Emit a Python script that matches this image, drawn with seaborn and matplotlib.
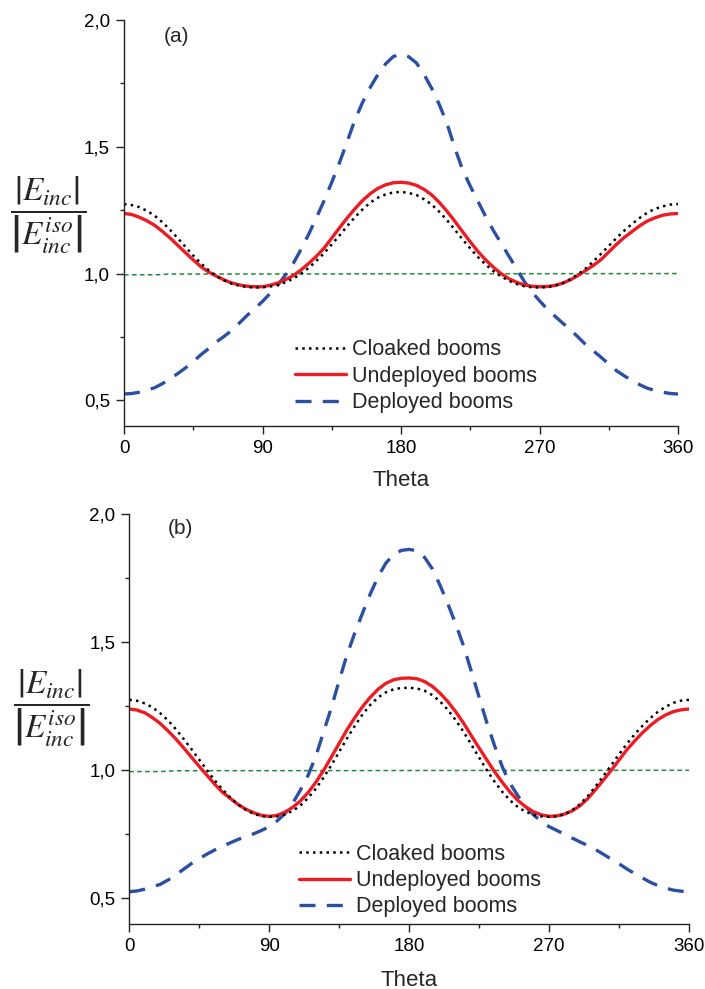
import matplotlib
matplotlib.use("Agg")
import numpy as np
import pandas as pd
import seaborn as sns
import matplotlib.pyplot as plt
from matplotlib.ticker import MultipleLocator, FuncFormatter

# ---------------- data ----------------
theta = list(range(0, 361, 5))

# panel (a)
a_cloaked = [1.274, 1.270, 1.262, 1.247, 1.228, 1.202, 1.172, 1.139, 1.105, 1.071,
             1.040, 1.013, 0.990, 0.973, 0.960, 0.952, 0.947, 0.945, 0.946, 0.949,
             0.955, 0.966, 0.980, 0.999, 1.022, 1.050, 1.080, 1.115, 1.150, 1.187,
             1.222, 1.253, 1.280, 1.299, 1.312, 1.320, 1.322, 1.318, 1.310, 1.293,
             1.272, 1.243, 1.210, 1.173, 1.135, 1.099, 1.065, 1.036, 1.010, 0.989,
             0.972, 0.959, 0.950, 0.946, 0.945, 0.947, 0.952, 0.962, 0.978, 0.997,
             1.020, 1.048, 1.078, 1.109, 1.140, 1.169, 1.195, 1.219, 1.240, 1.255,
             1.265, 1.272, 1.274]
a_undeployed = [1.237, 1.233, 1.222, 1.208, 1.190, 1.166, 1.140, 1.111, 1.082, 1.054,
                1.027, 1.006, 0.990, 0.975, 0.963, 0.955, 0.950, 0.948, 0.948, 0.954,
                0.963, 0.976, 0.992, 1.014, 1.040, 1.068, 1.100, 1.140, 1.180, 1.219,
                1.255, 1.288, 1.315, 1.336, 1.350, 1.358, 1.360, 1.357, 1.348, 1.332,
                1.310, 1.280, 1.245, 1.206, 1.165, 1.125, 1.087, 1.054, 1.025, 1.000,
                0.980, 0.966, 0.955, 0.950, 0.948, 0.949, 0.953, 0.962, 0.975, 0.992,
                1.012, 1.032, 1.055, 1.085, 1.115, 1.142, 1.165, 1.188, 1.207, 1.220,
                1.230, 1.235, 1.237]
a_deployed = [0.525, 0.527, 0.532, 0.540, 0.550, 0.566, 0.585, 0.606, 0.628, 0.653,
              0.680, 0.704, 0.730, 0.752, 0.776, 0.805, 0.835, 0.862, 0.890, 0.922,
              0.955, 0.995, 1.040, 1.095, 1.155, 1.220, 1.287, 1.360, 1.437, 1.520,
              1.605, 1.675, 1.734, 1.785, 1.827, 1.856, 1.865, 1.855, 1.831, 1.785,
              1.730, 1.665, 1.590, 1.495, 1.410, 1.345, 1.285, 1.225, 1.170, 1.120,
              1.070, 1.020, 0.970, 0.928, 0.893, 0.860, 0.832, 0.805, 0.779, 0.750,
              0.720, 0.695, 0.670, 0.643, 0.617, 0.597, 0.578, 0.562, 0.548, 0.539,
              0.532, 0.527, 0.525]

# panel (b)
b_cloaked = [1.275, 1.271, 1.261, 1.245, 1.222, 1.194, 1.160, 1.122, 1.082, 1.041,
             1.000, 0.960, 0.925, 0.893, 0.866, 0.845, 0.830, 0.821, 0.818, 0.820,
             0.827, 0.841, 0.862, 0.892, 0.928, 0.972, 1.020, 1.072, 1.124, 1.173,
             1.218, 1.255, 1.284, 1.304, 1.316, 1.321, 1.322, 1.319, 1.310, 1.293,
             1.268, 1.235, 1.195, 1.150, 1.100, 1.050, 1.000, 0.955, 0.915, 0.882,
             0.856, 0.838, 0.826, 0.820, 0.818, 0.820, 0.828, 0.845, 0.868, 0.900,
             0.938, 0.978, 1.020, 1.062, 1.103, 1.140, 1.173, 1.203, 1.228, 1.248,
             1.263, 1.272, 1.275]
b_undeployed = [1.239, 1.235, 1.224, 1.205, 1.182, 1.153, 1.122, 1.087, 1.051, 1.015,
                0.980, 0.945, 0.914, 0.890, 0.866, 0.848, 0.834, 0.824, 0.820, 0.824,
                0.836, 0.855, 0.880, 0.913, 0.953, 1.000, 1.052, 1.105, 1.158, 1.205,
                1.248, 1.285, 1.316, 1.339, 1.353, 1.359, 1.360, 1.357, 1.346, 1.327,
                1.300, 1.267, 1.228, 1.184, 1.135, 1.087, 1.040, 0.994, 0.952, 0.914,
                0.882, 0.857, 0.838, 0.826, 0.820, 0.822, 0.829, 0.842, 0.862, 0.890,
                0.925, 0.962, 1.000, 1.040, 1.080, 1.114, 1.146, 1.174, 1.198, 1.216,
                1.229, 1.236, 1.239]
b_deployed = [0.526, 0.529, 0.536, 0.545, 0.555, 0.572, 0.592, 0.614, 0.636, 0.655,
              0.673, 0.689, 0.703, 0.717, 0.730, 0.741, 0.752, 0.765, 0.780, 0.802,
              0.830, 0.870, 0.922, 0.980, 1.055, 1.150, 1.245, 1.350, 1.450, 1.535,
              1.613, 1.688, 1.755, 1.808, 1.842, 1.858, 1.862, 1.856, 1.830, 1.785,
              1.720, 1.648, 1.570, 1.485, 1.386, 1.285, 1.185, 1.095, 1.012, 0.947,
              0.900, 0.858, 0.826, 0.800, 0.780, 0.765, 0.750, 0.735, 0.720, 0.706,
              0.690, 0.672, 0.653, 0.635, 0.615, 0.597, 0.580, 0.563, 0.550, 0.540,
              0.532, 0.528, 0.526]

ref_theta = [0, 20, 30, 360]
ref_level = [0.995, 0.995, 0.998, 1.000]

labels = ["Cloaked booms", "Undeployed booms", "Deployed booms"]
xticks = [0, 90, 180, 270, 360]
yticks = [0.5, 1.0, 1.5, 2.0]
panel_tags = ["(a)", "(b)"]

# ---------------- style ----------------
sns.set_style("ticks")
plt.rcParams["font.family"] = ["Liberation Sans", "DejaVu Sans"]
plt.rcParams["mathtext.fontset"] = "stix"

tick_family = "Liberation Sans"
tick_size = 13.5

RED = "#ec1c24"
BLUE = "#2a4fa3"
GREEN = "#1f8a3c"

fig = plt.figure(figsize=(7.05, 9.89), dpi=100)

W, H = 705.0, 989.0
boxes = [(124, 678, 20, 425.7), (129.3, 689, 514, 924)]
ylab_pos = [(48, 215), (51, 708)]
tag_pos = [(177, 37), (180, 528)]
theta_pos = [(401, 480), (409, 980)]
leg_anchor = [(0.308, 0.122), (0.3025, 0.106)]

datasets = [(a_cloaked, a_undeployed, a_deployed), (b_cloaked, b_undeployed, b_deployed)]

for i, (x0, x1, y0, y1) in enumerate(boxes):
    ax = fig.add_axes([x0 / W, 1 - y1 / H, (x1 - x0) / W, (y1 - y0) / H])
    cl, un, de = datasets[i]
    df = pd.DataFrame({"theta": theta, "cl": cl, "un": un, "de": de})
    dref = pd.DataFrame({"theta": ref_theta, "v": ref_level})

    sns.lineplot(data=dref, x="theta", y="v", ax=ax, color=GREEN, linewidth=1.1)
    ax.lines[-1].set_dashes((3.0, 2.2))
    sns.lineplot(data=df, x="theta", y="de", ax=ax, color=BLUE, linewidth=2.4)
    l_de = ax.lines[-1]
    l_de.set_dashes((4.8, 3.4))
    sns.lineplot(data=df, x="theta", y="un", ax=ax, color=RED, linewidth=2.4)
    l_un = ax.lines[-1]
    l_un.set_solid_joinstyle("round")
    sns.lineplot(data=df, x="theta", y="cl", ax=ax, color="black", linewidth=1.8)
    l_cl = ax.lines[-1]
    l_cl.set_dashes((1.0, 1.7))

    ax.set_xlim(0, 360)
    ax.set_ylim(0.4, 2.0)
    ax.set_xticks(xticks)
    ax.set_yticks(yticks)
    ax.xaxis.set_minor_locator(MultipleLocator(45))
    ax.yaxis.set_minor_locator(MultipleLocator(0.25))
    ax.yaxis.set_major_formatter(FuncFormatter(lambda v, p: f"{v:.1f}".replace(".", ",")))
    ax.set_xlabel("")
    ax.set_ylabel("")
    for s in ["top", "right"]:
        ax.spines[s].set_visible(False)
    for s in ["left", "bottom"]:
        ax.spines[s].set_linewidth(1.0)
        ax.spines[s].set_color("#222222")
    ax.tick_params(which="major", direction="out", length=6, width=1.0, pad=4,
                   colors="#222222", labelcolor="black")
    ax.tick_params(which="minor", direction="out", length=3, width=1.0, colors="#222222")
    for t in ax.get_xticklabels() + ax.get_yticklabels():
        t.set_fontfamily(tick_family)
        t.set_fontsize(tick_size)

    leg = ax.legend(handles=[l_cl, l_un, l_de], labels=labels, loc="center left",
                    bbox_to_anchor=leg_anchor[i], frameon=False, fontsize=15.5,
                    handlelength=2.4, handletextpad=0.25, labelspacing=0.25,
                    borderpad=0, borderaxespad=0)

    fig.text(ylab_pos[i][0] / W, 1 - ylab_pos[i][1] / H,
             r"$\dfrac{\left|E_{inc}\right|}{\left|E_{inc}^{iso}\right|}$",
             ha="center", va="center", fontsize=24)
    fig.text(tag_pos[i][0] / W, 1 - tag_pos[i][1] / H, panel_tags[i],
             ha="center", va="center", fontsize=15)
    fig.text(theta_pos[i][0] / W, 1 - theta_pos[i][1] / H, "Theta",
             ha="center", va="center", fontsize=16)

fig.savefig("out.png", dpi=100)
